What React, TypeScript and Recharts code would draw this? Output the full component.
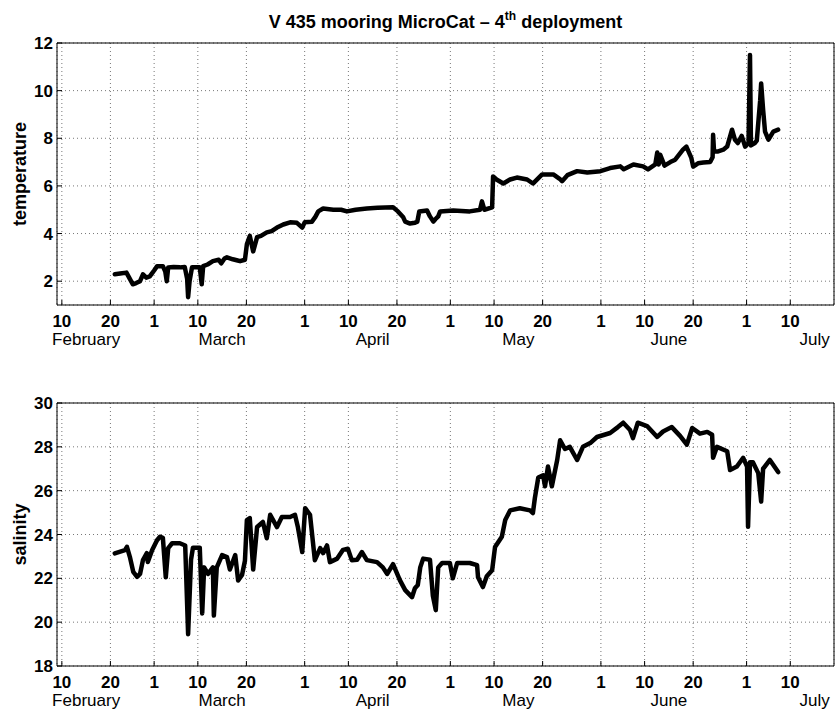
import React from "react";
import { LineChart, Line, XAxis, YAxis, CartesianGrid } from "recharts";

const FONT = '"Liberation Sans", Arial, Helvetica, sans-serif';

// x positions are day-of-year (non-leap year)
const dayTicks = [41, 51, 60, 69, 79, 91, 100, 110, 121, 130, 140, 152, 161, 171, 182, 191];
const dayTickLabels = ["10", "20", "1", "10", "20", "1", "10", "20", "1", "10", "20", "1", "10", "20", "1", "10"];
const monthTicks = [46, 74, 105, 135, 166, 196];
const monthNames = ["February", "March", "April", "May", "June", "July"];
const xDomain: [number, number] = [40, 200];

const tempTicks = [2, 4, 6, 8, 10, 12];
const salTicks = [18, 20, 22, 24, 26, 28, 30];

const tempDays = [
  51.9, 53.0, 54.3, 55.0, 55.6, 56.3, 57.1, 57.7, 58.4, 59.1, 60.0, 60.6, 61.8, 62.3, 62.6, 62.9,
  64.0, 65.3, 66.3, 66.8, 67.0, 67.3, 67.8, 69.4, 69.8, 70.1, 71.0, 72.1, 73.3, 73.8, 74.5, 75.0,
  76.2, 77.0, 77.7, 78.7, 79.1, 79.7, 80.4, 81.2, 82.0, 83.2, 84.2, 85.3, 86.6, 88.0, 89.4, 90.5,
  91.0, 92.5, 93.2, 93.8, 94.8, 96.9, 98.5, 99.7, 101.5, 103.8, 106.0, 109.2, 110.2, 111.3, 111.7, 112.7,
  113.7, 114.2, 114.6, 116.2, 116.8, 117.5, 117.9, 118.5, 118.9, 121.6, 125.0, 127.1, 127.5, 128.0, 129.6, 129.8,
  130.5, 131.9, 133.3, 134.7, 136.8, 138.0, 139.9, 142.2, 143.5, 144.0, 145.1, 147.1, 149.2, 151.9, 153.9, 156.0,
  156.7, 158.7, 160.7, 161.7, 163.2, 163.6, 163.9, 164.2, 165.1, 166.3, 167.3, 168.9, 169.6, 170.6, 171.0, 172.0,
  173.1, 174.5, 175.0, 175.1, 175.3, 176.0, 177.2, 178.0, 179.0, 179.6, 180.2, 181.0, 181.7, 182.4, 182.7, 182.9,
  183.7, 184.1, 184.8, 185.0, 185.4, 185.8, 186.5, 187.5, 188.5,
];
const tempValues = [
  2.29, 2.32, 2.36, 2.1, 1.87, 1.92, 2.0, 2.29, 2.15, 2.2, 2.45, 2.63, 2.63, 2.4, 2.0, 2.58,
  2.6, 2.58, 2.6, 2.1, 1.33, 2.0, 2.58, 2.58, 1.87, 2.63, 2.7, 2.84, 2.9, 2.75, 2.95, 3.0,
  2.92, 2.88, 2.84, 2.9, 3.55, 3.9, 3.25, 3.85, 3.9, 4.05, 4.1, 4.25, 4.38, 4.47, 4.45, 4.25,
  4.47, 4.5, 4.7, 4.93, 5.05, 5.0, 5.0, 4.93, 5.0, 5.05, 5.08, 5.1, 4.93, 4.68, 4.5, 4.42,
  4.45, 4.5, 4.93, 4.97, 4.72, 4.5, 4.6, 4.72, 4.93, 4.97, 4.93, 5.0, 5.35, 5.0, 5.1, 6.4,
  6.27, 6.1, 6.27, 6.35, 6.27, 6.1, 6.48, 6.48, 6.3, 6.2, 6.45, 6.62, 6.56, 6.62, 6.75, 6.82,
  6.7, 6.9, 6.82, 6.69, 6.9, 7.4, 6.9, 7.31, 6.85, 7.0, 7.1, 7.52, 7.65, 7.19, 6.81, 6.95,
  6.98, 7.0, 7.2, 8.15, 7.45, 7.44, 7.52, 7.65, 8.36, 7.94, 7.8, 8.1, 7.65, 7.8, 11.5, 7.7,
  7.8, 7.9, 9.6, 10.3, 9.2, 8.28, 7.94, 8.28, 8.36,
];

const salDays = [
  51.9, 54.0, 54.4, 55.0, 55.7, 56.5, 57.1, 57.7, 58.5, 58.7, 59.6, 60.6, 61.2, 61.8, 62.4, 62.9,
  63.7, 65.3, 66.4, 67.0, 67.6, 68.0, 69.4, 69.9, 70.3, 71.1, 72.1, 72.3, 72.9, 74.0, 75.0, 75.6,
  76.7, 77.3, 78.1, 78.7, 79.1, 79.7, 80.4, 81.2, 82.4, 83.2, 83.9, 85.3, 86.3, 88.0, 89.0, 89.6,
  90.5, 91.1, 92.1, 93.1, 94.2, 94.8, 95.6, 96.2, 97.7, 98.9, 99.9, 100.7, 101.8, 102.8, 103.8, 105.9,
  107.1, 108.0, 109.2, 110.6, 111.7, 113.1, 113.7, 114.3, 114.8, 115.4, 116.8, 117.4, 118.0, 118.5, 119.3, 120.9,
  121.5, 122.4, 123.6, 125.0, 126.5, 126.7, 127.7, 128.5, 129.6, 130.2, 131.6, 132.3, 133.3, 135.3, 137.4, 138.0,
  138.4, 139.1, 140.1, 140.5, 141.1, 141.9, 143.0, 143.6, 144.6, 145.6, 147.1, 148.3, 149.8, 151.2, 153.9, 155.5,
  156.6, 158.0, 158.6, 159.6, 161.5, 163.6, 164.8, 166.6, 168.3, 169.7, 170.8, 172.4, 173.9, 174.9, 175.1, 175.9,
  178.0, 178.6, 180.0, 181.3, 182.1, 182.3, 182.7, 183.3, 184.4, 185.0, 185.4, 186.8, 188.5,
];
const salValues = [
  23.14, 23.29, 23.44, 22.98, 22.3, 22.07, 22.2, 22.83, 23.15, 22.75, 23.29, 23.74, 23.9, 23.85, 22.05, 23.38,
  23.6, 23.6, 23.5, 19.45, 22.85, 23.4, 23.4, 20.4, 22.5, 22.2, 22.5, 20.3, 22.5, 23.06, 22.97, 22.4,
  23.06, 21.9, 22.15, 22.8, 24.66, 24.75, 22.4, 24.34, 24.57, 23.83, 24.9, 24.34, 24.8, 24.8, 24.9, 24.34,
  23.2, 25.2, 24.9, 22.83, 23.38, 23.15, 23.5, 22.74, 22.9, 23.3, 23.35, 22.83, 22.85, 23.2, 22.83, 22.74,
  22.5, 22.2, 22.65, 21.92, 21.46, 21.14, 21.55, 21.7, 22.5, 22.9, 22.85, 21.2, 20.55, 22.5, 22.7, 22.7,
  22.0, 22.7, 22.7, 22.7, 22.6, 22.05, 21.6, 22.1, 22.37, 23.43, 23.9, 24.66, 25.1, 25.2, 25.1, 24.98,
  25.66, 26.6, 26.7, 26.2, 27.1, 26.2, 27.4, 28.3, 27.9, 28.0, 27.4, 28.0, 28.17, 28.45, 28.63, 28.9,
  29.1, 28.77, 28.4, 29.1, 28.95, 28.45, 28.7, 28.9, 28.5, 28.1, 28.86, 28.6, 28.68, 28.55, 27.5, 28.0,
  27.8, 26.94, 27.1, 27.5, 27.1, 24.35, 27.3, 27.3, 26.8, 25.5, 27.0, 27.4, 26.85,
];

const tempData = tempDays.map((d, i) => ({ day: d, value: tempValues[i] }));
const salData = salDays.map((d, i) => ({ day: d, value: salValues[i] }));

const tickStyle = { fill: "#000", fontSize: 17, fontWeight: "bold", fontFamily: FONT };
const monthStyle = { fill: "#000", fontSize: 17, fontFamily: FONT };

function YTitle({ viewBox, value }: any) {
  const cx = 20;
  const cy = viewBox ? viewBox.y + viewBox.height / 2 : 174;
  return (
    <text
      x={cx}
      y={cy}
      transform={`rotate(-90 ${cx} ${cy})`}
      textAnchor="middle"
      dominantBaseline="central"
      fill="#000"
      style={{ fontFamily: FONT, fontSize: 18, fontWeight: "bold" }}
    >
      {value}
    </text>
  );
}

interface PanelProps {
  data: { day: number; value: number }[];
  yDomain: [number, number];
  yTicks: number[];
  yLabel: string;
  height: number;
  bottom: number;
}

function Panel({ data, yDomain, yTicks, yLabel, height, bottom }: PanelProps) {
  return (
    <LineChart
      width={837}
      height={height}
      data={data}
      margin={{ top: 42, right: 2, bottom, left: 7 }}
    >
      <CartesianGrid stroke="#777" strokeDasharray="1 3" />
      <XAxis
        dataKey="day"
        type="number"
        domain={xDomain}
        allowDataOverflow
        ticks={dayTicks}
        interval={0}
        tickFormatter={(v: number) => dayTickLabels[dayTicks.indexOf(v)]}
        height={25}
        tickSize={-5}
        tickMargin={15}
        stroke="#000"
        tick={tickStyle}
      />
      {/* month names sit on a second row under the day numbers */}
      <XAxis
        xAxisId="month"
        dataKey="day"
        type="number"
        domain={xDomain}
        allowDataOverflow
        ticks={monthTicks}
        interval={0}
        tickFormatter={(v: number) => monthNames[monthTicks.indexOf(v)]}
        height={25}
        tickSize={0}
        tickMargin={3}
        axisLine={false}
        tickLine={false}
        tick={monthStyle}
      />
      {/* top and right axes close the box with inward ticks */}
      <XAxis
        xAxisId="top"
        dataKey="day"
        orientation="top"
        type="number"
        domain={xDomain}
        allowDataOverflow
        ticks={dayTicks}
        interval={0}
        height={1}
        tickSize={-5}
        tick={false}
        stroke="#000"
      />
      <YAxis
        type="number"
        domain={yDomain}
        allowDataOverflow
        ticks={yTicks}
        interval={0}
        width={50}
        tickSize={-5}
        tickMargin={9}
        stroke="#000"
        tick={tickStyle}
        label={{ content: (p: any) => <YTitle viewBox={p.viewBox} value={yLabel} /> }}
      />
      <YAxis
        yAxisId="right"
        orientation="right"
        type="number"
        domain={yDomain}
        allowDataOverflow
        ticks={yTicks}
        interval={0}
        width={1}
        tickSize={-5}
        tick={false}
        stroke="#000"
      />
      <Line
        xAxisId="month"
        type="linear"
        dataKey="value"
        stroke="none"
        dot={false}
        activeDot={false}
        isAnimationActive={false}
      />
      <Line
        xAxisId="top"
        yAxisId="right"
        type="linear"
        dataKey="value"
        stroke="none"
        dot={false}
        activeDot={false}
        isAnimationActive={false}
      />
      <Line
        type="linear"
        dataKey="value"
        stroke="#000"
        strokeWidth={4.5}
        strokeLinejoin="round"
        strokeLinecap="round"
        dot={false}
        isAnimationActive={false}
      />
    </LineChart>
  );
}

export default function App() {
  return (
    <div
      style={{
        position: "absolute",
        left: 0,
        top: 0,
        width: 837,
        height: 716,
        background: "#fff",
        fontFamily: FONT,
      }}
    >
      <div
        style={{
          position: "absolute",
          left: 57,
          width: 777,
          top: 13,
          textAlign: "center",
          fontSize: 18,
          lineHeight: "18px",
          fontWeight: "bold",
          color: "#000",
          whiteSpace: "nowrap",
        }}
      >
        V 435 mooring MicroCat – 4
        <span style={{ fontSize: 12, position: "relative", top: -8 }}>th</span> deployment
      </div>
      <div style={{ position: "absolute", left: 0, top: 0 }}>
        <Panel
          data={tempData}
          yDomain={[1, 12]}
          yTicks={tempTicks}
          yLabel="temperature"
          height={360}
          bottom={5}
        />
      </div>
      <div style={{ position: "absolute", left: 0, top: 360 }}>
        <Panel
          data={salData}
          yDomain={[18, 30]}
          yTicks={salTicks}
          yLabel="salinity"
          height={356}
          bottom={0}
        />
      </div>
    </div>
  );
}
